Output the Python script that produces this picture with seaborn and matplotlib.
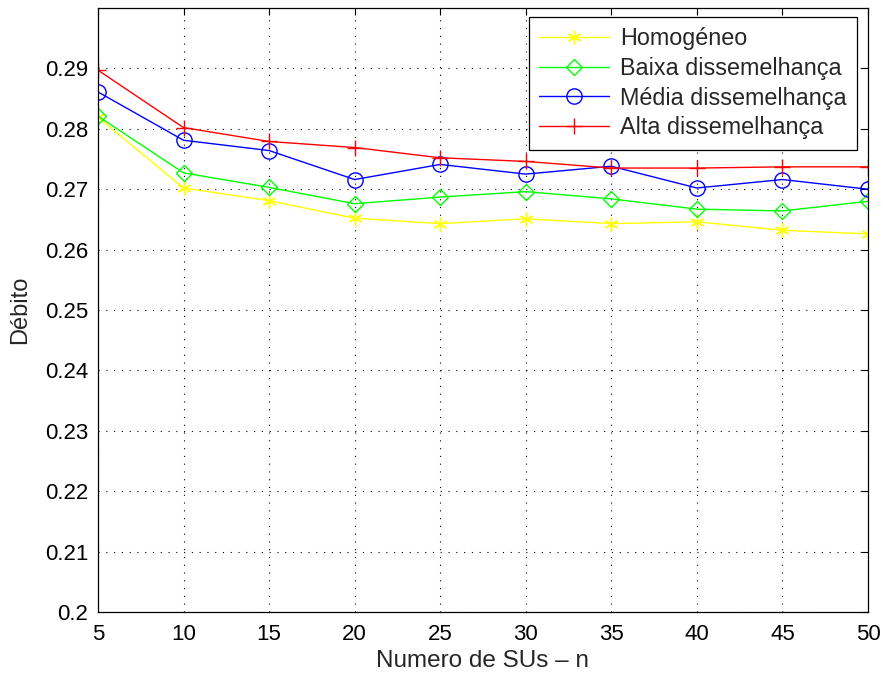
import numpy as np
import pandas as pd
import matplotlib
matplotlib.use("Agg")
import matplotlib.pyplot as plt
import seaborn as sns

# Number of secondary users
n_sus = [5, 10, 15, 20, 25, 30, 35, 40, 45, 50]

# Throughput per scenario
homogeneo = [0.2819, 0.2702, 0.2681, 0.2652, 0.2643, 0.2651, 0.2643, 0.2646, 0.2632, 0.2626]
baixa = [0.2821, 0.2727, 0.2703, 0.2676, 0.2687, 0.2696, 0.2684, 0.2667, 0.2664, 0.2680]
media = [0.2861, 0.2781, 0.2764, 0.2716, 0.2741, 0.2725, 0.2738, 0.2702, 0.2716, 0.2700]
alta = [0.2897, 0.2802, 0.2779, 0.2769, 0.2752, 0.2746, 0.2735, 0.2735, 0.2737, 0.2737]

series_names = ["Homogéneo", "Baixa dissemelhança", "Média dissemelhança", "Alta dissemelhança"]
series_values = [homogeneo, baixa, media, alta]
series_colors = ["#ffff00", "#00ff00", "#0000ff", "#ff0000"]
asterisk = (6, 2, 0)
series_markers = [asterisk, "D", "o", "+"]
series_msizes = [10, 8.5, 11, 12]

x_ticks = [5, 10, 15, 20, 25, 30, 35, 40, 45, 50]
y_ticks = [0.20, 0.21, 0.22, 0.23, 0.24, 0.25, 0.26, 0.27, 0.28, 0.29]

sns.set_style("white")
plt.rcParams["font.family"] = ["Liberation Sans", "DejaVu Sans"]

fig = plt.figure(figsize=(8.83, 6.75), dpi=100)
ax = fig.add_axes([98 / 883, 1 - 612 / 675, (868 - 98) / 883, (612 - 8) / 675])

for name, vals, col, mk, ms in zip(series_names, series_values, series_colors,
                                    series_markers, series_msizes):
    df = pd.DataFrame({"n": n_sus, "debito": vals})
    sns.lineplot(data=df, x="n", y="debito", ax=ax, color=col, marker=mk,
                 markersize=ms, markerfacecolor="none", markeredgecolor=col,
                 markeredgewidth=1.0, linewidth=1.0, label=name)

ax.set_xlim(5, 50)
ax.set_ylim(0.2, 0.3)
ax.set_xticks(x_ticks)
ax.set_yticks(y_ticks)
ax.set_xticklabels([str(v) for v in x_ticks])
ax.set_yticklabels([f"{v:g}" for v in y_ticks])
ax.tick_params(axis="both", direction="in", length=5, width=0.8, labelsize=16,
               top=True, right=True, colors="black")
ax.tick_params(axis="x", pad=9)
ax.tick_params(axis="y", pad=7)
ax.grid(True, color="black", linestyle=(0, (1, 6)), linewidth=0.8)

for sp in ax.spines.values():
    sp.set_visible(True)
    sp.set_color("black")
    sp.set_linewidth(0.9)

ax.set_xlabel("Numero de SUs – n", fontsize=17.5, labelpad=3)
ax.set_ylabel("Débito", fontsize=17, labelpad=10)

leg = ax.legend(loc="upper right", bbox_to_anchor=((857 - 98) / 770, (612 - 17) / 604),
                borderaxespad=0, fontsize=16.8,
                frameon=True, fancybox=False, edgecolor="black", framealpha=1,
                handlelength=3.0, handletextpad=0.45, borderpad=0.45, labelspacing=0.28)
leg.get_frame().set_linewidth(0.9)

fig.savefig("out.png", dpi=100)
